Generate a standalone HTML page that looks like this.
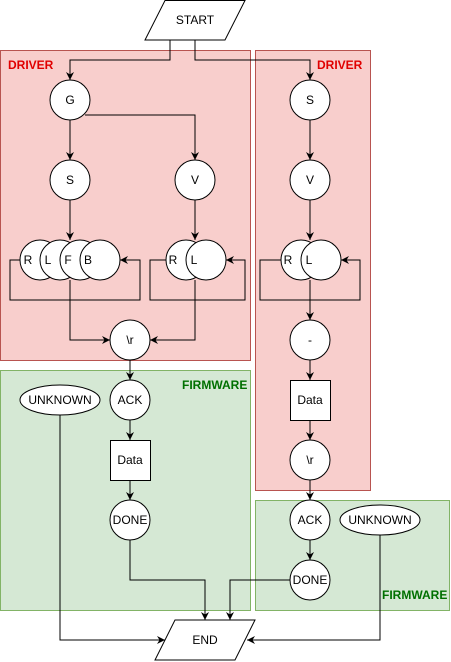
<!DOCTYPE html>
<html><head><style>
html,body{margin:0;padding:0;background:#fff;}
svg{display:block;font-family:"Liberation Sans",Arial,sans-serif;}
</style></head><body>
<svg width="451" height="662" viewBox="0 0 451 662" xmlns="http://www.w3.org/2000/svg">
<defs>
<marker id="a" markerWidth="10" markerHeight="10" refX="8" refY="5" orient="auto" markerUnits="userSpaceOnUse">
<path d="M0,1 L8,5 L0,9 L2.5,5 Z" fill="#000"/>
</marker>
</defs>
<!-- containers -->
<rect x="0.5" y="50.5" width="250" height="310" fill="#f8cecc" stroke="#b85450"/>
<rect x="255.5" y="50.5" width="115" height="440" fill="#f8cecc" stroke="#b85450"/>
<rect x="0.5" y="370.5" width="250" height="240" fill="#d5e8d4" stroke="#82b366"/>
<rect x="255.5" y="500.5" width="194" height="110" fill="#d5e8d4" stroke="#82b366"/>
<g font-weight="bold" font-size="12">
<text x="8" y="69" fill="#e00000">DRIVER</text>
<text x="317" y="69" fill="#e00000">DRIVER</text>
<text x="182" y="389" fill="#007000">FIRMWARE</text>
<text x="382" y="599" fill="#007000">FIRMWARE</text>
</g>
<g fill="none" stroke="#000" stroke-width="1">
<!-- edges -->
<path d="M170,40 V60 H70 V80" marker-end="url(#a)"/>
<path d="M195,40 V60 H310 V80" marker-end="url(#a)"/>
<path d="M70,120 V160" marker-end="url(#a)"/>
<path d="M85,115 H195 V160" marker-end="url(#a)"/>
<path d="M70,200 V240" marker-end="url(#a)"/>
<path d="M195,200 V240" marker-end="url(#a)"/>
<path d="M20,260 H10 V300 H140 V260 H120" marker-end="url(#a)"/>
<path d="M166,260 H150 V300 H245 V260 H226" marker-end="url(#a)"/>
<path d="M70,280 V340 H110" marker-end="url(#a)"/>
<path d="M195,280 V340 H150" marker-end="url(#a)"/>
<path d="M130,360 V380" marker-end="url(#a)"/>
<path d="M130,420 V440" marker-end="url(#a)"/>
<path d="M130,480 V500" marker-end="url(#a)"/>
<path d="M130,540 V580 H205 V620" marker-end="url(#a)"/>
<path d="M290,580 H230 V620" marker-end="url(#a)"/>
<path d="M60,415 V640 H165" marker-end="url(#a)"/>
<path d="M380,535 V640 H247" marker-end="url(#a)"/>
<path d="M310,120 V160" marker-end="url(#a)"/>
<path d="M310,200 V240" marker-end="url(#a)"/>
<path d="M281,260 H260 V300 H360 V260 H341" marker-end="url(#a)"/>
<path d="M310,280 V320" marker-end="url(#a)"/>
<path d="M310,360 V380" marker-end="url(#a)"/>
<path d="M310,420 V440" marker-end="url(#a)"/>
<path d="M310,480 V500" marker-end="url(#a)"/>
<path d="M310,540 V560" marker-end="url(#a)"/>
</g>
<g fill="#fff" stroke="#000" stroke-width="1">
<path d="M165,0.5 H245 L225,40 H145 Z"/>
<path d="M175,620 H255 L235,660 H155 Z"/>
<circle cx="70" cy="100" r="20"/>
<circle cx="70" cy="180" r="20"/>
<circle cx="195" cy="180" r="20"/>
<circle cx="40" cy="260" r="20"/>
<circle cx="60" cy="260" r="20"/>
<circle cx="80" cy="260" r="20"/>
<circle cx="100" cy="260" r="20"/>
<circle cx="186" cy="260" r="20"/>
<circle cx="206" cy="260" r="20"/>
<circle cx="130" cy="340" r="20"/>
<circle cx="130" cy="400" r="20"/>
<rect x="110.5" y="440.5" width="40" height="40"/>
<circle cx="130" cy="520" r="20"/>
<ellipse cx="60" cy="400" rx="40" ry="15"/>
<circle cx="310" cy="100" r="20"/>
<circle cx="310" cy="180" r="20"/>
<circle cx="301" cy="260" r="20"/>
<circle cx="321" cy="260" r="20"/>
<circle cx="310" cy="340" r="20"/>
<rect x="290.5" y="380.5" width="40" height="40"/>
<circle cx="310" cy="460" r="20"/>
<circle cx="310" cy="520" r="20"/>
<circle cx="310" cy="580" r="20"/>
<ellipse cx="380" cy="520" rx="40" ry="15"/>
</g>
<g font-size="12" fill="#000" text-anchor="middle">
<text x="195" y="24">START</text>
<text x="205" y="644">END</text>
<text x="70" y="104">G</text>
<text x="70" y="184">S</text>
<text x="195" y="184">V</text>
<text x="28" y="264">R</text>
<text x="48" y="264">L</text>
<text x="68" y="264">F</text>
<text x="88" y="264">B</text>
<text x="173" y="264">R</text>
<text x="194" y="264">L</text>
<text x="130" y="344">\r</text>
<text x="130" y="404">ACK</text>
<text x="130" y="464">Data</text>
<text x="130" y="524">DONE</text>
<text x="60" y="404">UNKNOWN</text>
<text x="310" y="104">S</text>
<text x="310" y="184">V</text>
<text x="288" y="264">R</text>
<text x="309" y="264">L</text>
<text x="310" y="344">-</text>
<text x="310" y="404">Data</text>
<text x="310" y="464">\r</text>
<text x="310" y="524">ACK</text>
<text x="310" y="584">DONE</text>
<text x="380" y="524">UNKNOWN</text>
</g>
</svg>
</body></html>
